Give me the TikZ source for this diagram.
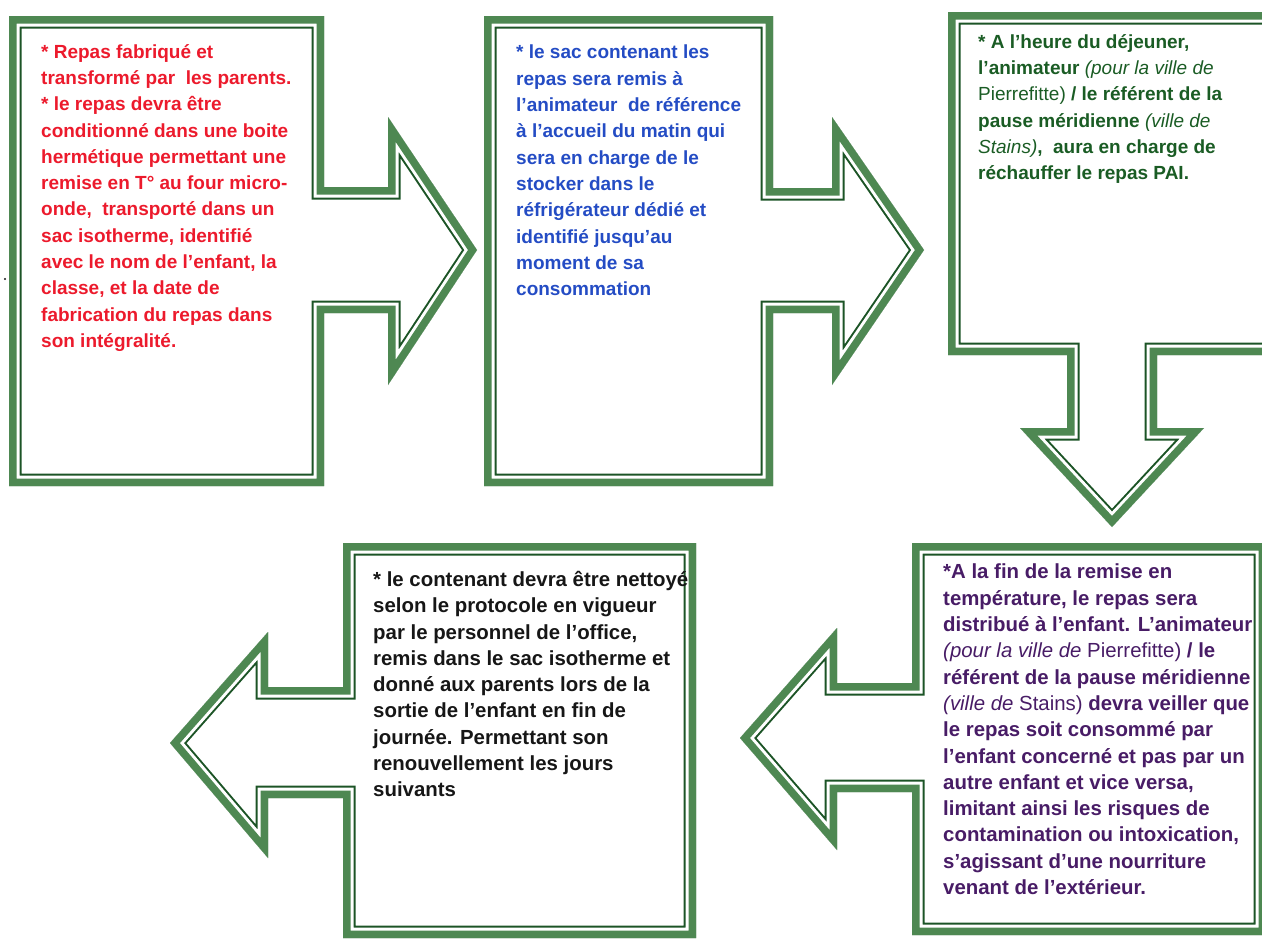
\documentclass[tikz,border=0pt]{standalone}
\usepackage{fontspec}
\setmainfont{Liberation Sans}

\definecolor{framegreen}{RGB}{78,136,82}
\definecolor{framedark}{RGB}{28,84,38}
\definecolor{redtxt}{RGB}{236,26,44}
\definecolor{bluetxt}{RGB}{36,76,196}
\definecolor{greentxt}{RGB}{26,92,36}
\definecolor{purpletxt}{RGB}{72,28,102}
\definecolor{blacktxt}{RGB}{22,22,22}

% thick band outside, white gap, thin line inside
\newcommand{\greenframe}[1]{%
\begin{scope}
\clip #1;
\foreach \w/\c in {25/framedark,21/white,15/framegreen}
  \draw[line width=\w pt,color=\c,line join=miter] #1;
\end{scope}}

\begin{document}
\begin{tikzpicture}[x=1pt,y=-1pt,
  txt/.style={anchor=north west,inner sep=0pt,align=left,font=\bfseries\fontsize{19}{26.3}\selectfont},
  txtbig/.style={txt,font=\bfseries\fontsize{20.4}{26.3}\selectfont}]

\useasboundingbox (0,0) rectangle (1262,940);
\clip (0,0) rectangle (1262,940);

% top row, arrows to the right
\greenframe{(9,16) -- (324,16) -- (324,187) -- (388,187) -- (388,117) -- (477,250) -- (388,385) -- (388,313) -- (324,313) -- (324,486) -- (9,486) -- cycle}
\greenframe{(484,16) -- (773,16) -- (773,188) -- (832,188) -- (832,117) -- (924,250) -- (832,385) -- (832,313) -- (773,313) -- (773,486) -- (484,486) -- cycle}

% arrow down
\greenframe{(948,12) -- (1290,12) -- (1290,355) -- (1157,355) -- (1157,428) -- (1204,428) -- (1112,527) -- (1020,428) -- (1067,428) -- (1067,355) -- (948,355) -- cycle}

% bottom row, arrows to the left
\greenframe{(912,543) -- (1266,543) -- (1266,935) -- (912,935) -- (912,792) -- (837,792) -- (837,850) -- (740,738) -- (837,628) -- (837,683) -- (912,683) -- cycle}
\greenframe{(343,543) -- (696,543) -- (696,938) -- (343,938) -- (343,798) -- (268,798) -- (268,858) -- (170,743) -- (268,632) -- (268,687) -- (343,687) -- cycle}

%speck on the left
\fill[blacktxt] (5,279) circle (1.2);

% texts
\node[txt,text=redtxt] (txtrepas) at (41,44) {* Repas fabriqué et\\
transformé par~ les parents.\\
* le repas devra être\\
conditionné dans une boite\\
hermétique permettant une\\
remise en T° au four micro-\\
onde,~ transporté dans un\\
sac isotherme, identifié\\
avec le nom de l’enfant, la\\
classe, et la date de\\
fabrication du repas dans\\
son intégralité.};

\node[txt,text=bluetxt] (txtsac) at (516,45) {* le sac contenant les\\
repas sera remis à\\
l’animateur~ de référence\\
à l’accueil du matin qui\\
sera en charge de le\\
stocker dans le\\
réfrigérateur dédié et\\
identifié jusqu’au\\
moment de sa\\
consommation};

\node[txt,text=greentxt] (txtdejeuner) at (978,34) {* A l’heure du déjeuner,\\
l’animateur {\mdseries\itshape (pour la ville de}\\
{\mdseries Pierrefitte)} / le référent de la\\
pause méridienne {\mdseries\itshape (ville de}\\
{\mdseries\itshape Stains)},~ aura en charge de\\
réchauffer le repas PAI.};

\node[txtbig,text=purpletxt] (txtfin) at (943,564) {*A la fin de la remise en\\
température, le repas sera\\
distribué à l’enfant. L’animateur\\
{\mdseries\itshape (pour la ville de} {\mdseries Pierrefitte)} / le\\
référent de la pause méridienne\\
{\mdseries\itshape (ville de} {\mdseries Stains)} devra veiller que\\
le repas soit consommé par\\
l’enfant concerné et pas par un\\
autre enfant et vice versa,\\
limitant ainsi les risques de\\
contamination ou intoxication,\\
s’agissant d’une nourriture\\
venant de l’extérieur.};

\node[txtbig,text=blacktxt] (txtcontenant) at (373,571) {* le contenant devra être nettoyé\\
selon le protocole en vigueur\\
par le personnel de l’office,\\
remis dans le sac isotherme et\\
donné aux parents lors de la\\
sortie de l’enfant en fin de\\
journée. Permettant son\\
renouvellement les jours\\
suivants};

\end{tikzpicture}
\end{document}
